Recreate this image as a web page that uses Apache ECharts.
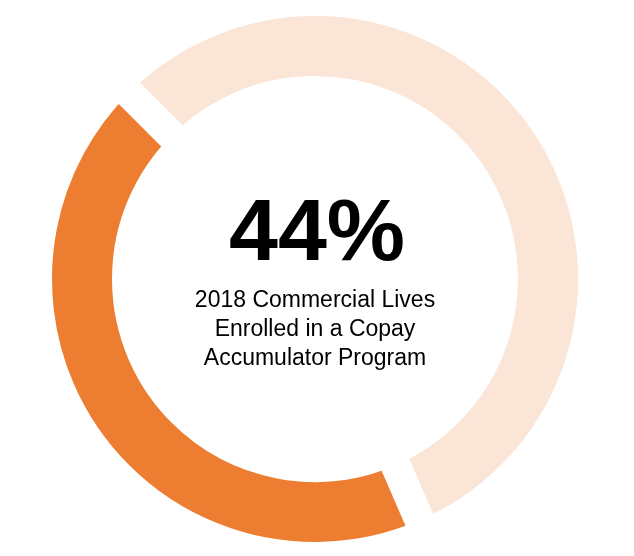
<!DOCTYPE html>
<html>
<head>
<meta charset="utf-8">
<script src="https://cdn.jsdelivr.net/npm/echarts@6/dist/echarts.min.js"></script>
<style>
html,body{margin:0;padding:0;background:#fff;}
#chart{width:634px;height:556px;}
</style>
</head>
<body>
<div id="chart"></div>
<script>
const categories = ['Not enrolled', 'Enrolled in a Copay Accumulator Program'];
const values = [56, 44];
const colors = ['#FBE5D6', '#ED7D31'];
const headline = '44%';
const subtitleLines = ['2018 Commercial Lives', 'Enrolled in a Copay', 'Accumulator Program'];

const chart = echarts.init(document.getElementById('chart'), null, {renderer: 'canvas'});
const cx = 315, cy = 279;
chart.setOption({
  backgroundColor: '#ffffff',
  animation: false,
  series: [{
    type: 'pie',
    center: [cx, cy],
    radius: [188, 278],
    startAngle: 135,
    clockwise: true,
    label: {show: false},
    labelLine: {show: false},
    emphasis: {disabled: true},
    itemStyle: {borderColor: '#ffffff', borderWidth: 30},
    data: categories.map((c, i) => ({name: c, value: values[i], itemStyle: {color: colors[i]}}))
  }],
  graphic: [
    {
      type: 'text', x: cx + 2, y: 236,
      style: {text: headline, fill: '#000', font: 'bold 88px "Liberation Sans", Arial, sans-serif', align: 'center', verticalAlign: 'middle'}
    }
  ].concat(subtitleLines.map((t, i) => ({
    type: 'text', x: cx, y: 301 + i * 29,
    style: {text: t, fill: '#000', font: '23px "Liberation Sans", Arial, sans-serif', align: 'center', verticalAlign: 'middle'}
  })))
});
</script>
</body>
</html>
